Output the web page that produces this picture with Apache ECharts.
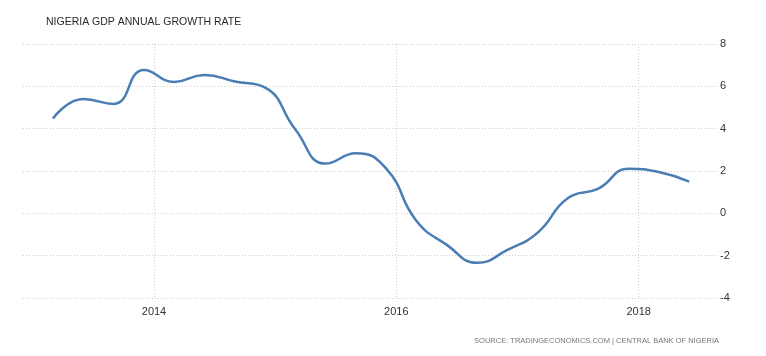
<!DOCTYPE html>
<html>
<head>
<meta charset="utf-8">
<script src="https://cdn.jsdelivr.net/npm/echarts@6/dist/echarts.min.js"></script>
<style>
html,body{margin:0;padding:0;background:#fff;}
#chart{width:766px;height:356px;}
</style>
</head>
<body>
<div id="chart"></div>
<script>
const quarters = ['2013 Q1','2013 Q2','2013 Q3','2013 Q4','2014 Q1','2014 Q2','2014 Q3','2014 Q4','2015 Q1','2015 Q2','2015 Q3','2015 Q4','2016 Q1','2016 Q2','2016 Q3','2016 Q4','2017 Q1','2017 Q2','2017 Q3','2017 Q4','2018 Q1','2018 Q2'];
const growth = [4.48, 5.40, 5.17, 6.77, 6.21, 6.54, 6.23, 5.94, 3.96, 2.35, 2.84, 2.11, -0.36, -1.49, -2.34, -1.73, -0.91, 0.72, 1.17, 2.11, 1.95, 1.50];
const yearTicks = [2014, 2016, 2018];
const titleText = 'NIGERIA GDP ANNUAL GROWTH RATE';
const sourceText = 'SOURCE: TRADINGECONOMICS.COM | CENTRAL BANK OF NIGERIA';

// quarter -> decimal year (first day of the quarter's last month)
function qToYear(label) {
  const y = parseInt(label.slice(0, 4), 10);
  const q = parseInt(label.slice(6), 10);
  return y + (q * 3 - 1) / 12;
}
const seriesData = quarters.map((q, i) => [qToYear(q), growth[i]]);

const chart = echarts.init(document.getElementById('chart'), null, {renderer: 'canvas'});
chart.setOption({
  animation: false,
  backgroundColor: '#ffffff',
  title: {
    text: titleText,
    left: 41,
    top: 12,
    textStyle: {fontFamily: 'Liberation Sans', fontSize: 10.5, fontWeight: 'normal', color: '#2a2a2a'}
  },
  graphic: [{
    type: 'text',
    right: 47,
    top: 337,
    style: {text: sourceText, fontFamily: 'Liberation Sans', fontSize: 7.5, fill: '#777777'}
  }],
  grid: {left: 23, right: 49, top: 44, bottom: 58, containLabel: false},
  xAxis: {
    type: 'value',
    min: 2012.919,
    max: 2018.646,
    axisLine: {show: false},
    axisTick: {show: false, customValues: yearTicks},
    axisLabel: {
      customValues: yearTicks,
      color: '#333333',
      fontFamily: 'Liberation Sans',
      fontSize: 11,
      margin: 8,
      formatter: v => String(Math.round(v))
    },
    splitLine: {show: true, lineStyle: {color: '#cccccc', type: [1, 2], width: 1}}
  },
  yAxis: {
    type: 'value',
    position: 'right',
    min: -4,
    max: 8,
    interval: 2,
    axisLine: {show: false},
    axisTick: {show: false},
    axisLabel: {color: '#333333', fontFamily: 'Liberation Sans', fontSize: 11, margin: 3},
    splitLine: {show: true, lineStyle: {color: '#cccccc', type: [1, 2], width: 1}}
  },
  series: [{
    type: 'line',
    data: seriesData,
    smooth: 0.5,
    showSymbol: false,
    lineStyle: {color: '#4a7db4', width: 2.5},
    itemStyle: {color: '#4a7db4'}
  }]
});
</script>
</body>
</html>
